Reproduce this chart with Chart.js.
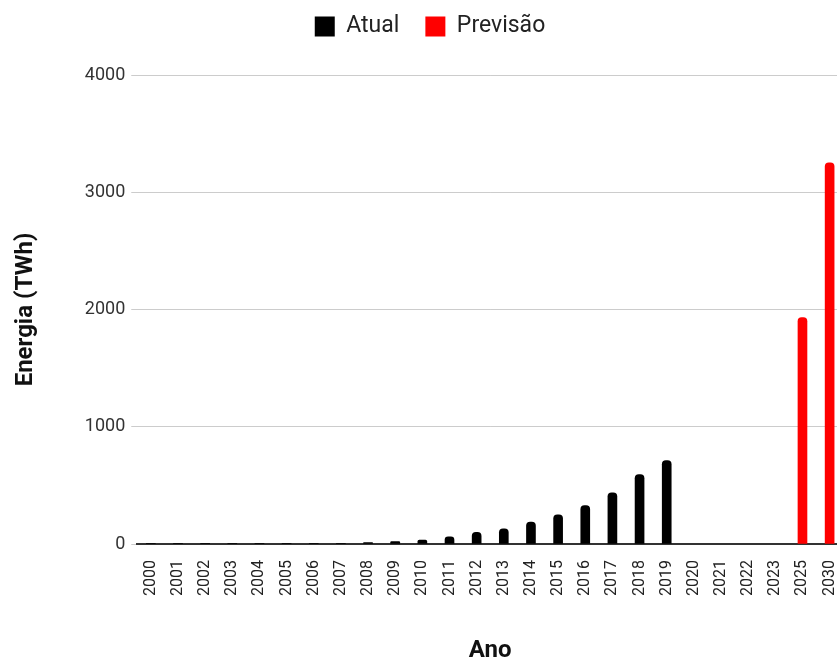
<!DOCTYPE html>
<html>
<head>
<meta charset="utf-8">
<script src="https://cdn.jsdelivr.net/npm/chart.js@4/dist/chart.umd.min.js"></script>
<style>
  html, body { margin: 0; padding: 0; background: #fff; overflow: hidden; }
  #wrap { width: 857px; height: 663px; }
</style>
</head>
<body>
<div id="wrap"><canvas id="c" width="857" height="663"></canvas></div>
<script>
// Annual solar energy generation (TWh): measured and forecast
const anos = ['2000','2001','2002','2003','2004','2005','2006','2007','2008','2009',
  '2010','2011','2012','2013','2014','2015','2016','2017','2018','2019',
  '2020','2021','2022','2023','2025','2030'];
const atual = [1, 1, 2, 2, 3, 4, 5, 7, 12, 20,
  34, 62, 100, 130, 188, 250, 328, 437, 592, 712,
  null, null, null, null, null, null];
const previsao = [null, null, null, null, null, null, null, null, null, null,
  null, null, null, null, null, null, null, null, null, null,
  null, null, null, null, 1932, 3250];
const yTicks = [0, 1000, 2000, 3000, 4000];

const font = 'Roboto, "Noto Sans", sans-serif';

// extra room between the legend and the plot
const legendGap = {
  id: 'legendGap',
  beforeInit(chart) {
    const fit = chart.legend.fit;
    chart.legend.fit = function () {
      fit.bind(chart.legend)();
      this.height += 27;
    };
  }
};

new Chart(document.getElementById('c'), {
  type: 'bar',
  data: {
    labels: anos,
    datasets: [
      { label: 'Atual', data: atual, backgroundColor: '#000000',
        barThickness: 9, borderRadius: { topLeft: 4, topRight: 4 }, borderSkipped: 'bottom' },
      { label: 'Previsão', data: previsao, backgroundColor: '#ff0000',
        barThickness: 9, borderRadius: { topLeft: 4, topRight: 4 }, borderSkipped: 'bottom' }
    ]
  },
  plugins: [legendGap],
  options: {
    responsive: false,
    animation: false,
    layout: { padding: { left: 12, right: 9, top: -11, bottom: 0 } },
    datasets: { bar: { grouped: false } },
    plugins: {
      legend: {
        position: 'top',
        labels: {
          font: { family: font, size: 23 },
          color: '#222',
          boxWidth: 20,
          boxHeight: 20,
          padding: 26
        }
      },
      tooltip: { enabled: false }
    },
    scales: {
      x: {
        grid: { display: false },
        border: { display: true, color: '#333', width: 2 },
        ticks: {
          font: { family: font, size: 16 },
          color: '#222',
          minRotation: 90,
          maxRotation: 90,
          autoSkip: false,
          padding: 8
        },
        title: {
          display: true,
          text: 'Ano',
          font: { family: font, size: 24, weight: 'bold', lineHeight: 1 },
          color: '#111',
          padding: { top: 35, bottom: 0 }
        }
      },
      y: {
        min: 0,
        max: 4000,
        afterBuildTicks: (axis) => { axis.ticks = yTicks.map(v => ({ value: v })); },
        grid: { color: '#cccccc', lineWidth: 1, drawTicks: true, tickLength: 6 },
        border: { display: false },
        ticks: {
          font: { family: font, size: 18 },
          color: '#333',
          padding: 6,
          callback: (v) => String(v)
        },
        title: {
          display: true,
          text: 'Energia (TWh)',
          font: { family: font, size: 24, weight: 'bold' },
          color: '#111',
          padding: { top: 0, bottom: 38 }
        }
      }
    }
  }
});
</script>
</body>
</html>
